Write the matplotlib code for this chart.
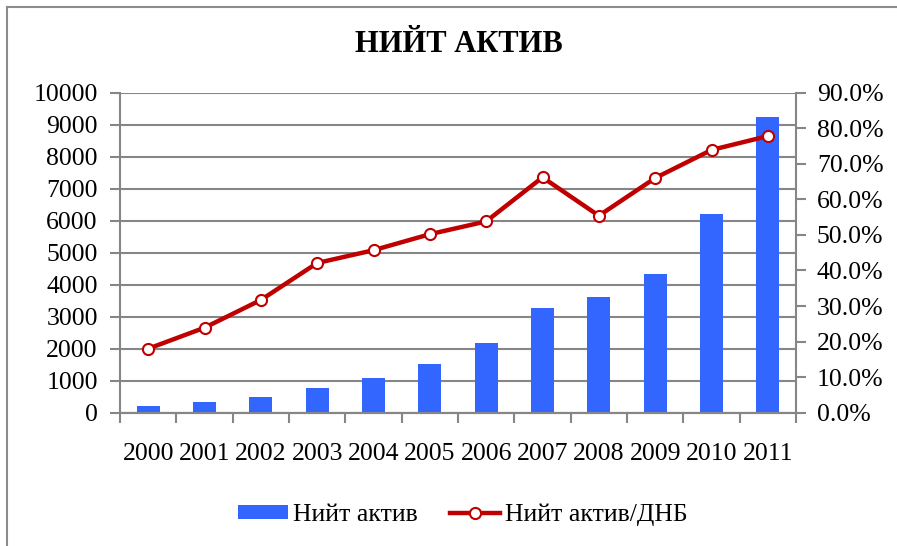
import matplotlib
matplotlib.use("Agg")
import matplotlib.pyplot as plt
from matplotlib.lines import Line2D
from matplotlib.patches import Patch
from matplotlib.ticker import FixedLocator, NullFormatter

# Өгөгдөл
years = ["2000", "2001", "2002", "2003", "2004", "2005",
         "2006", "2007", "2008", "2009", "2010", "2011"]
niit_aktiv = [220, 330, 500, 770, 1070, 1520, 2180, 3280, 3630, 4340, 6220, 9240]
aktiv_dnb = [18.0, 23.9, 31.7, 42.1, 45.7, 50.2, 53.8, 66.2, 55.4, 66.0, 73.9, 77.8]

title = "НИЙТ АКТИВ"
label_bar = "Нийт актив"
label_line = "Нийт актив/ДНБ"

bar_color = "#3366FF"
line_color = "#C00000"
grid_color = "#868686"

plt.rcParams['font.family'] = ['Liberation Serif', 'DejaVu Serif']
fs = 18.5

fig = plt.figure(figsize=(8.97, 5.46), dpi=100)
ax = fig.add_axes([120/897, 1-412.7/546, 676/897, 320/546])
ax2 = ax.twinx()

x = list(range(len(years)))
ax.bar(x, niit_aktiv, width=0.41, color=bar_color, zorder=3)
ax.set_xlim(-0.5, len(years) - 0.5)
ax.set_ylim(0, 10000)
ax.set_yticks(range(0, 10001, 1000))
ax.yaxis.grid(True, color=grid_color, linewidth=1.5, zorder=0)
ax.set_axisbelow(True)

ax.set_xticks(x)
ax.set_xticklabels(years)
ax.xaxis.set_minor_locator(FixedLocator([i - 0.5 for i in range(len(years) + 1)]))
ax.xaxis.set_minor_formatter(NullFormatter())
ax.tick_params(axis='x', which='major', length=0, labelsize=fs, pad=22)
ax.tick_params(axis='x', which='minor', length=7, width=1.5, color=grid_color, direction='out')
ax.tick_params(axis='y', length=7, width=1.5, color=grid_color, labelsize=fs, pad=9)

ax2.plot(x, aktiv_dnb, color=line_color, linewidth=3.2, marker='o', markersize=8,
         markerfacecolor='white', markeredgecolor=line_color, markeredgewidth=1.5, zorder=4)
ax2.set_ylim(0, 90)
ax2.set_yticks(range(0, 91, 10))
ax2.set_yticklabels([f"{v:.1f}%" for v in range(0, 91, 10)])
ax2.tick_params(axis='y', length=7, width=1.5, color=grid_color, labelsize=fs, pad=8)

for a in (ax, ax2):
    for side in a.spines:
        a.spines[side].set_visible(False)
    a.spines['bottom'].set_visible(True)
    a.spines['bottom'].set_color(grid_color)
    a.spines['bottom'].set_linewidth(1.5)
ax.spines['left'].set_visible(True)
ax.spines['left'].set_color(grid_color)
ax.spines['left'].set_linewidth(1.5)
ax2.spines['right'].set_visible(True)
ax2.spines['right'].set_color(grid_color)
ax2.spines['right'].set_linewidth(1.5)

fig.text(459/897, 1 - 45/546, title, ha='center', va='center', fontsize=22, fontweight='bold')

# хүрээ (зүүн, дээд тал)
fig.add_artist(Line2D([7/897, 7/897], [0, 1 - 7/546], color="#8C8C8C", linewidth=1.5,
                      transform=fig.transFigure))
fig.add_artist(Line2D([7/897, 1], [1 - 7/546, 1 - 7/546], color="#8C8C8C", linewidth=1.5,
                      transform=fig.transFigure))

handles = [Patch(facecolor=bar_color, edgecolor='none'),
           Line2D([0], [0], color=line_color, linewidth=3.2, marker='o', markersize=8,
                  markerfacecolor='white', markeredgecolor=line_color, markeredgewidth=1.5)]
fig.legend(handles, [label_bar, label_line], loc='center', bbox_to_anchor=(0.5156, 1 - 515/546),
           ncol=2, frameon=False, fontsize=fs, handlelength=1.95, handleheight=0.5,
           handletextpad=0.2, columnspacing=1.25)

fig.savefig("out.png", dpi=100)
